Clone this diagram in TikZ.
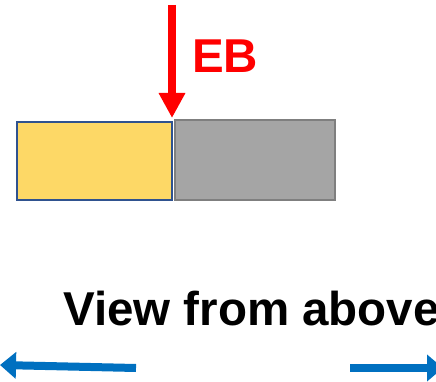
\documentclass[tikz,border=0pt]{standalone}
\usepackage{fontspec}
\setmainfont{Liberation Sans}
\usetikzlibrary{arrows.meta}
\definecolor{boxyellow}{HTML}{FDD866}
\definecolor{boxblue}{HTML}{2F528F}
\definecolor{boxgray}{HTML}{A5A5A5}
\definecolor{edgegray}{HTML}{7F7F7F}
\definecolor{arrowblue}{HTML}{0070C0}
\begin{document}
\begin{tikzpicture}[x=1pt,y=-1pt,
  block/.style={line width=2pt},
  beam/.style={red, line width=8pt, -{Triangle[width=25pt,length=25pt]}},
  motion/.style={arrowblue, line width=8pt, -{Triangle[width=26pt,length=16pt]}},
  lbl/.style={font=\bfseries\fontsize{47.5}{47.5}\selectfont, inner sep=0pt, anchor=base west}]
  \path[use as bounding box] (0,0) rectangle (436,382);
  \clip (0,0) rectangle (436,382);
  % sample plates
  \draw[block, fill=boxyellow, draw=boxblue] (17,122) rectangle (172,200);
  \draw[block, fill=boxgray, draw=edgegray] (175,120) rectangle (335,200);
  \coordinate (joint) at (172,118);
  \coordinate (beamtop) at (172,5);
  % electron beam
  \draw[beam] (beamtop) -- (joint);
  \node[lbl, text=red] (eb) at (192,73) {EB};
  % caption
  \node[lbl] (cap) at (63,325) {View from above};
  % travel directions
  \coordinate (lstart) at (136,368);
  \coordinate (lend) at (0,365);
  \coordinate (rstart) at (350,368);
  \coordinate (rend) at (443,368);
  \draw[motion] (lstart) -- (lend);
  \draw[motion] (rstart) -- (rend);
\end{tikzpicture}
\end{document}
